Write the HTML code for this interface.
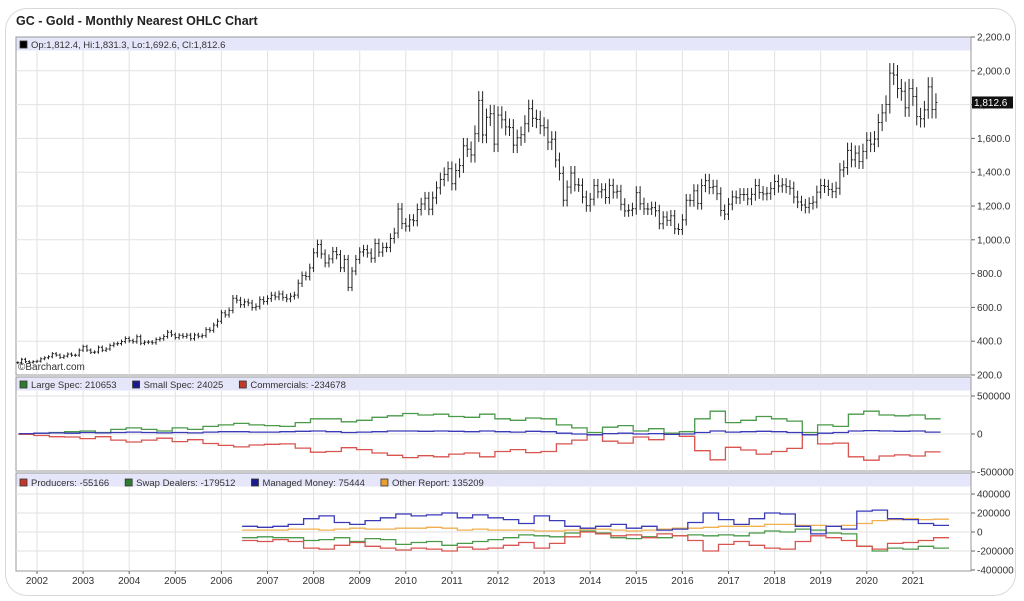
<!DOCTYPE html>
<html><head><meta charset="utf-8">
<style>
html,body{margin:0;padding:0;background:#fff;}
body{width:1024px;height:601px;overflow:hidden;font-family:"Liberation Sans",sans-serif;}
#card{position:absolute;left:5px;top:8px;width:1011px;height:588px;border:1.5px solid #d8d8d8;border-radius:22px;box-sizing:border-box;}
svg{position:absolute;left:0;top:0;}
</style></head>
<body>
<div id="card"></div>
<svg id="chart" width="1024" height="601"></svg>
<script>
// ---- data ----
const priceStart = 2001.583; // Aug 2001
const closes = [273,293,279,275,279,
282,296,302,308,326,318,304,312,324,317,317,347,
368,347,334,336,364,346,354,375,384,386,398,416,
403,397,427,388,394,395,391,410,415,428,453,438,
422,435,428,436,415,437,429,433,469,464,495,518,
568,556,582,654,643,616,633,626,599,606,646,635,
652,672,662,679,659,650,666,673,743,789,783,834,
923,972,916,863,887,930,912,834,884,718,815,884,
928,942,922,891,978,927,955,955,1008,1040,1182,1096,
1081,1118,1113,1179,1212,1246,1181,1248,1307,1357,1387,1421,
1332,1410,1439,1556,1536,1502,1628,1825,1620,1725,1746,1566,
1738,1710,1668,1664,1560,1604,1622,1687,1776,1719,1712,1675,
1663,1578,1595,1472,1393,1234,1312,1395,1326,1323,1253,1202,
1240,1321,1284,1296,1250,1322,1282,1287,1210,1171,1175,1184,
1279,1213,1183,1182,1190,1172,1095,1135,1115,1142,1065,1061,
1118,1234,1233,1290,1215,1321,1350,1309,1316,1273,1174,1152,
1211,1254,1249,1268,1268,1242,1269,1321,1280,1271,1275,1303,
1345,1318,1325,1315,1305,1253,1224,1206,1192,1215,1223,1282,
1321,1316,1298,1285,1305,1413,1427,1529,1473,1513,1463,1523,
1589,1566,1596,1694,1751,1801,1986,1975,1895,1879,1781,1895,
1848,1729,1716,1769,1905,1771,1812.6];
const priceTicks = [200,400,600,800,1000,1200,1400,1600,1800,2000,2200];
const years = [2002,2003,2004,2005,2006,2007,2008,2009,2010,2011,2012,2013,2014,2015,2016,2017,2018,2019,2020,2021];

const cotStart = 2001.6;
const largeSpec = [0,10,20,30,40,20,60,80,60,40,80,60,100,120,140,120,110,100,150,200,200,160,180,220,240,270,250,260,230,220,260,200,180,210,200,120,80,20,90,110,40,70,10,30,200,300,150,180,230,200,170,20,120,100,260,300,250,240,250,200];
const smallSpec = [5,10,15,10,20,15,20,25,20,15,20,15,25,30,30,25,25,30,35,40,30,20,25,30,40,40,35,40,35,30,40,30,25,35,30,10,0,-10,5,10,0,5,-5,0,20,40,25,30,35,30,20,-10,10,20,40,45,40,35,40,25];
const commercials = [-5,-20,-35,-40,-60,-35,-80,-105,-80,-55,-100,-75,-125,-150,-170,-145,-135,-130,-185,-240,-230,-180,-205,-250,-280,-310,-285,-300,-265,-250,-300,-230,-205,-245,-230,-130,-80,-10,-95,-120,-40,-75,-5,-30,-220,-340,-175,-210,-265,-230,-190,-10,-130,-120,-300,-345,-290,-275,-290,-235];
const cotTicks = [-500000,0,500000];

const disStart = 2006.45;
const managedMoney = [60,50,60,80,140,170,100,80,120,150,190,170,180,200,150,180,150,130,90,170,120,60,40,60,80,40,60,20,30,100,200,130,80,140,200,190,60,-20,60,30,220,230,140,130,90,70];
const producers = [-90,-100,-80,-100,-170,-180,-140,-110,-150,-170,-190,-170,-180,-200,-160,-180,-170,-140,-110,-170,-120,-50,0,-20,-40,-30,-60,-20,-40,-90,-200,-130,-100,-140,-170,-180,-100,-40,-60,-90,-150,-180,-120,-110,-90,-60];
const swapDealers = [-60,-50,-60,-60,-90,-80,-60,-100,-70,-80,-130,-110,-100,-140,-120,-100,-80,-60,-30,-40,-50,-10,10,-10,-60,-70,-50,-60,-40,-30,-40,-30,-40,-10,10,0,30,20,-10,-20,-150,-200,-170,-180,-150,-170];
const otherReport = [20,20,20,30,30,20,30,40,30,30,40,40,50,40,20,30,20,20,20,10,10,20,30,30,20,10,20,30,40,40,50,60,60,60,80,80,70,70,60,70,90,120,130,140,130,135];
const disTicks = [-400000,-200000,0,200000,400000];

// ---- layout ----
const NS='http://www.w3.org/2000/svg';
const svg=document.getElementById('chart');
const L=16,R=971;
const xT=t=>37+(t-2002)*46.1;
const P={top:37,bot:375};
const yP=v=>375-(v-200)*(338/2000);
const C2={top:377,bot:471};
const y2=v=>434-v*1000*(38/500000);      // v in thousands
const y2raw=v=>y2(v/1000);
const C3={top:473,bot:571};
const y3=v=>532-v*1000*(19/200000);      // v in thousands
const y3raw=v=>y3(v/1000);

function el(tag,attrs,parent){const e=document.createElementNS(NS,tag);for(const k in attrs)e.setAttribute(k,attrs[k]);(parent||svg).appendChild(e);return e;}
function txt(x,y,s,attrs){const t=el('text',Object.assign({x:x,y:y,'font-size':10,fill:'#333','font-family':'Liberation Sans, sans-serif'},attrs||{}));t.textContent=s;return t;}

// title
const title=txt(16,25,'GC - Gold - Monthly Nearest OHLC Chart',{'font-size':12.5,'font-weight':'bold',fill:'#222'});



function panel(p,name,ticks,yf,fmt){
  const g=el('g',{});
  
  
  el('rect',{x:L,y:p.top,width:R-L,height:p.bot-p.top,fill:'#fff',stroke:'#999','stroke-width':1},g);
  years.forEach(yr=>el('line',{x1:xT(yr),x2:xT(yr),y1:p.top+14,y2:p.bot,stroke:'#e2e2e2'},g));
  ticks.forEach(v=>{const y=yf(v);
    if(y>p.top+14&&y<p.bot-1) el('line',{x1:L,x2:R,y1:y,y2:y,stroke:'#e2e2e2'},g);
    el('line',{x1:R,x2:R+4,y1:y,y2:y,stroke:'#666'},g);
    const t=txt(R+6,y+3.5,fmt(v),{});
    
    
  });
  el('rect',{x:L+0.5,y:p.top+0.5,width:R-L-1,height:13,fill:'#e6e6fa'},g);
  return g;
}
const fmtP=v=>v.toLocaleString('en-US',{minimumFractionDigits:1,maximumFractionDigits:1});
panel(P,'price-panel',priceTicks,yP,fmtP);
panel(C2,'cot-panel',cotTicks,y2raw,v=>String(v));
panel(C3,'disaggregated-panel',disTicks,y3raw,v=>String(v));

function legend(items,y){
  let x=L+4;
  items.forEach(([c,label])=>{
    const sw=el('rect',{x:x,y:y-7,width:7,height:7,fill:c,stroke:'#333','stroke-width':0.8});
    
    
    const t=txt(x+11,y,label,{'font-size':9.5});
    
    
    x+=11+t.getComputedTextLength()+16;
  });
}
legend([['#000','Op:1,812.4, Hi:1,831.3, Lo:1,692.6, Cl:1,812.6']],48);
legend([['#2e7d2e','Large Spec: 210653'],['#1a1a8c','Small Spec: 24025'],['#c0392b','Commercials: -234678']],388);
legend([['#c0392b','Producers: -55166'],['#2e7d2e','Swap Dealers: -179512'],['#1a1a8c','Managed Money: 75444'],['#e8a030','Other Report: 135209']],486);

// OHLC bars
closes.forEach((c,i)=>{
  const o=i>0?closes[i-1]:c;
  const hi=Math.max(o,c)*1.03, lo=Math.min(o,c)*0.97;
  const x=xT(priceStart+i/12);
  const g=el('g',{stroke:'#222','stroke-width':1});
  
  
  el('line',{x1:x,x2:x,y1:yP(hi),y2:yP(lo)},g);
  el('line',{x1:x-1.5,x2:x,y1:yP(o),y2:yP(o)},g);
  el('line',{x1:x,x2:x+1.5,y1:yP(c),y2:yP(c)},g);
});
const wm=txt(18,370,'\u00a9Barchart.com',{'font-size':10,fill:'#333'});



// last price label
const lc=closes[closes.length-1];
const lb=el('rect',{x:R+1,y:yP(lc)-6,width:41,height:12,fill:'#111'});


const lt=txt(R+3,yP(lc)+3.5,fmtP(lc),{fill:'#fff','font-size':10});



// step lines
function step(arr,start,yf,color,name){
  let d='';
  arr.forEach((v,i)=>{const x0=xT(start+i/3),x1=xT(start+(i+1)/3),y=yf(v);
    d+=(i===0?'M':'L')+x0.toFixed(1)+','+y.toFixed(1)+'L'+x1.toFixed(1)+','+y.toFixed(1);});
  const p=el('path',{d:d,fill:'none',stroke:color,'stroke-width':1.3});
  
  
}
step(largeSpec,cotStart,y2,'#4a9a4a','large-spec-line');
step(commercials,cotStart,y2,'#d9534f','commercials-line');
step(smallSpec,cotStart,y2,'#3a3ab8','small-spec-line');
step(otherReport,disStart,y3,'#f0b050','other-report-line');
step(swapDealers,disStart,y3,'#4a9a4a','swap-dealers-line');
step(producers,disStart,y3,'#d9534f','producers-line');
step(managedMoney,disStart,y3,'#3a3ab8','managed-money-line');

// x axis
years.forEach(yr=>{
  const x=xT(yr);
  el('line',{x1:x,x2:x,y1:571,y2:574,stroke:'#666'});
  const t=txt(x,584,String(yr),{'text-anchor':'middle','font-size':10});
  
  
});
</script>
</body></html>
